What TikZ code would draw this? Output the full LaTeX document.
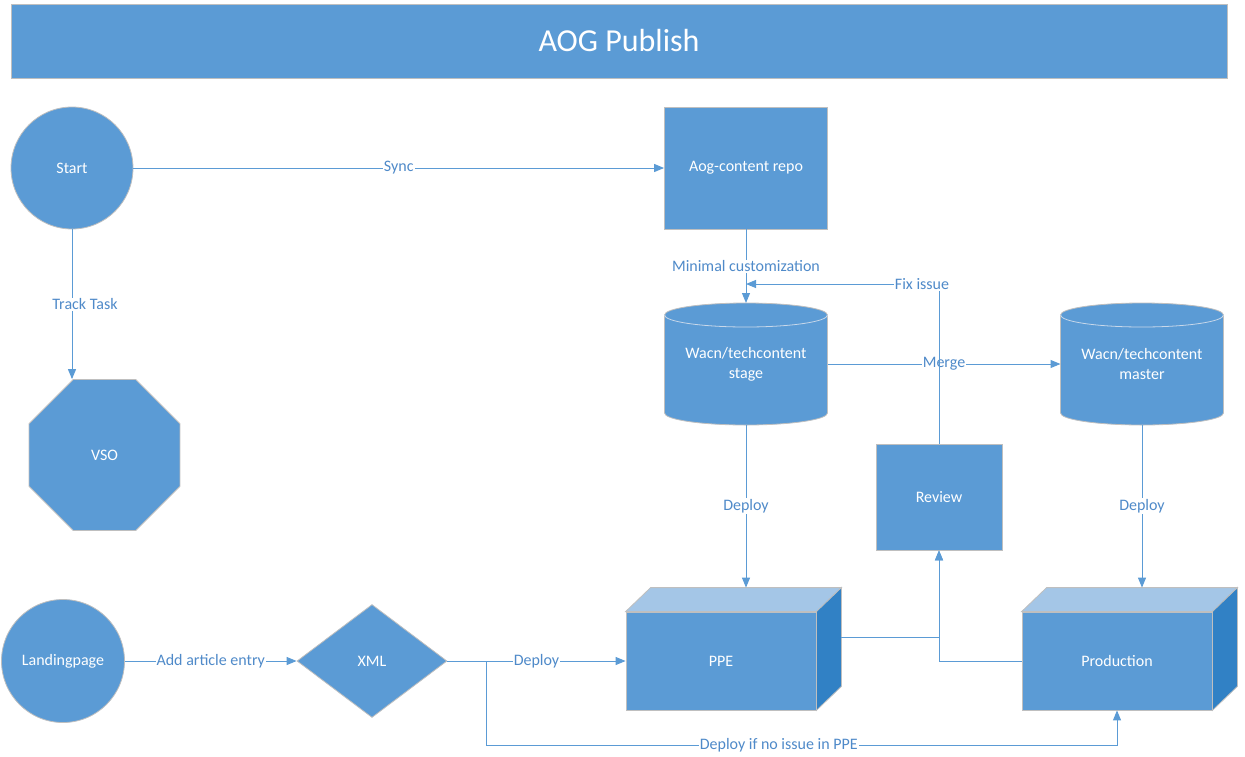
\documentclass[tikz,border=0pt]{standalone}
\usepackage{fontspec}
\setmainfont{Carlito}
\usetikzlibrary{shapes.geometric,arrows.meta,calc}
\definecolor{fillb}{HTML}{5B9BD5}
\definecolor{topb}{HTML}{A4C6E7}
\definecolor{sideb}{HTML}{3181C5}
\definecolor{edge}{HTML}{BFBFBF}
\definecolor{lbl}{HTML}{4F8AC9}
\definecolor{rim}{HTML}{C8D8EA}
\begin{document}
\begin{tikzpicture}[x=1pt,y=-1pt,
  shapebox/.style={fill=fillb, draw=edge, line width=0.8pt, text=white,
    font=\fontsize{16}{20}\selectfont, align=center, inner sep=0pt},
  cylnode/.style={text=white, font=\fontsize{16}{20}\selectfont, align=center,
    inner sep=0pt, outer sep=0pt, minimum width=163, minimum height=122},
  conn/.style={draw=fillb, line width=1pt},
  arr/.style={conn, -{Triangle[length=10pt,width=8pt]}},
  lab/.style={fill=white, text=lbl, font=\fontsize{16}{18}\selectfont, inner sep=1pt},
  topface/.style={fill=topb, draw=edge, line width=0.8pt},
  sideface/.style={fill=sideb, draw=edge, line width=0.8pt}]
\useasboundingbox (0,0) rectangle (1245,756);

% title
\node[shapebox, minimum width=1216, minimum height=74,
  font=\fontsize{32}{38}\selectfont] (title) at (619,41) {AOG Publish};

% nodes
\node[shapebox, circle, minimum size=122] (start) at (72,168) {Start};
\node[shapebox, regular polygon, regular polygon sides=8, minimum size=163.4] (vso) at (104.5,455) {VSO};
\node[shapebox, circle, minimum size=123] (land) at (63,661) {Landingpage};
\node[shapebox, diamond, minimum width=150, minimum height=113] (xml) at (372,661) {XML};
\node[shapebox, minimum width=163, minimum height=122] (repo) at (746,168) {Aog-content repo};
\node[shapebox, minimum width=126, minimum height=106] (review) at (939,497) {Review};

% cylinders
\foreach \n/\x/\t in {stage/746/{Wacn/techcontent\\stage}, master/1142/{Wacn/techcontent\\master}}{
  \node[cylnode] (\n) at (\x,364) {};
  \path[fill=fillb, draw=edge, line width=0.8pt]
    ($(\n.north west)+(0,12)$) -- ($(\n.south west)+(0,-12)$)
    arc[start angle=180, end angle=0, x radius=81.5, y radius=12]
    -- ($(\n.north east)+(0,12)$)
    arc[start angle=0, end angle=-180, x radius=81.5, y radius=12] -- cycle;
  \draw[rim, line width=0.8pt] ($(\n.north west)+(0,12)$)
    arc[start angle=180, end angle=0, x radius=81.5, y radius=12];
  \node[text=white, font=\fontsize{16}{20}\selectfont, align=center] at (\n) {\t};
}

% 3D boxes
\foreach \n/\x/\t in {ppe/721/PPE, prod/1117/Production}{
  \node[shapebox, minimum width=190, minimum height=98] (\n) at (\x,661) {\t};
  \path[topface] (\n.north west) -- ++(25,-24) -- ($(\n.north east)+(25,-24)$) -- (\n.north east) -- cycle;
  \path[sideface] (\n.north east) -- ++(25,-24) -- ($(\n.south east)+(25,-24)$) -- (\n.south east) -- cycle;
  \coordinate (\n-top) at ($(\n.north)+(25,-24)$);
  \coordinate (\n-right) at ($(\n.east)+(25,-24)$);
}

% connectors
\draw[arr] (start) -- node[lab]{Sync} (repo);
\draw[arr] (start.south) -- node[lab, xshift=13pt]{Track Task} (start.south |- vso.north);
\draw[arr] (repo.south) -- node[lab]{Minimal customization} (stage.north);
\draw[arr] (stage.east) -- node[lab]{Merge} (master.west);
\coordinate (fixend) at (746,284);
\draw[arr] (review.north) |- node[lab, pos=0.544]{Fix issue} (fixend);
\draw[arr] (stage.south) -- node[lab]{Deploy} (ppe-top);
\draw[arr] (master.south) -- node[lab]{Deploy} (prod-top);
\draw[arr] (land) -- node[lab]{Add article entry} (xml);
\draw[arr] (xml.east) -- node[lab]{Deploy} (ppe.west);
\coordinate (split) at (486,661);
\draw[arr] (split) -- ++(0,84) -| node[lab, pos=0.232]{Deploy if no issue in PPE} (prod.south);
\draw[arr] (ppe-right) -| (review.south);
\draw[arr] (prod.west) -| (review.south);
\end{tikzpicture}
\end{document}
